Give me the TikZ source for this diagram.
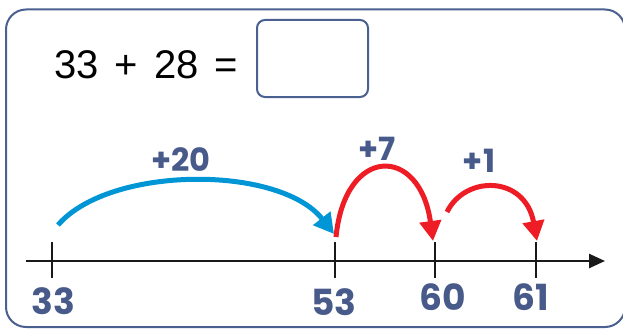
\documentclass[tikz,border=0pt]{standalone}
\usepackage{fontspec}
\setmainfont{Liberation Sans}
\newfontfamily\handfont{Poppins}
\usetikzlibrary{arrows.meta}
\definecolor{framec}{HTML}{4A6090}
\definecolor{handc}{HTML}{475A8A}
\definecolor{jumpblue}{HTML}{0096D6}
\definecolor{jumpred}{HTML}{EE1C25}
\tikzset{
  hand/.style={text=handc, font=\handfont\bfseries\fontsize{36}{36}\selectfont, inner sep=0pt},
  handsmall/.style={text=handc, font=\handfont\bfseries\fontsize{32}{32}\selectfont, inner sep=0pt},
  jump/.style={line width=5pt, -{Triangle[length=20pt,width=21pt]}},
  tickmark/.style={line width=2.5pt, black!90},
}
\begin{document}
\begin{tikzpicture}[x=1pt,y=-1pt]
\useasboundingbox (0,0) rectangle (623,329);
% frame
\draw[framec, line width=2pt, rounded corners=20pt] (6,9.5) rectangle (625,327);
% equation
\node[anchor=base west, inner sep=0pt, font=\fontsize{40}{40}\selectfont] (eq) at (54,78) {33\hspace{16pt}+\hspace{16pt}28\hspace{16pt}=};
\node[draw=framec, line width=2pt, rounded corners=8pt, minimum width=111pt, minimum height=77pt, inner sep=0pt] (ans) at (312.5,58.5) {};
% number line
\coordinate (ls) at (26,261);
\coordinate (le) at (605,261);
\draw[line width=2.5pt, black!90, -{Triangle[length=16pt,width=14pt]}] (ls) -- (le);
\foreach \n/\x in {t33/52, t53/335, t60/435, t61/536}{
  \coordinate (\n) at (\x,261);
  \draw[tickmark] (\x,242) -- (\x,278);
}
% labels
\node[hand] (l33) at (53,301) {33};
\node[hand] (l53) at (334,302) {53};
\node[hand] (l60) at (443,297) {60};
\node[hand] (l61) at (531,297) {61};
% jumps
\coordinate (b0) at (58,225);
\coordinate (b1) at (334,234);
\draw[jump, jumpblue] (b0) .. controls (110,165) and (280,165) .. (b1);
\coordinate (r0) at (336,237);
\coordinate (r1) at (433,241);
\draw[jump, jumpred] (r0) .. controls (345,145) and (420,145) .. (r1);
\coordinate (s0) at (447,212);
\coordinate (s1) at (537,241);
\draw[jump, jumpred] (s0) .. controls (465,175) and (525,175) .. (s1);
% jump labels
\node[handsmall] (p20) at (181,160) {+20};
\node[handsmall] (p7) at (377,149) {+7};
\node[handsmall] (p1) at (479,161) {+1};
\end{tikzpicture}
\end{document}
